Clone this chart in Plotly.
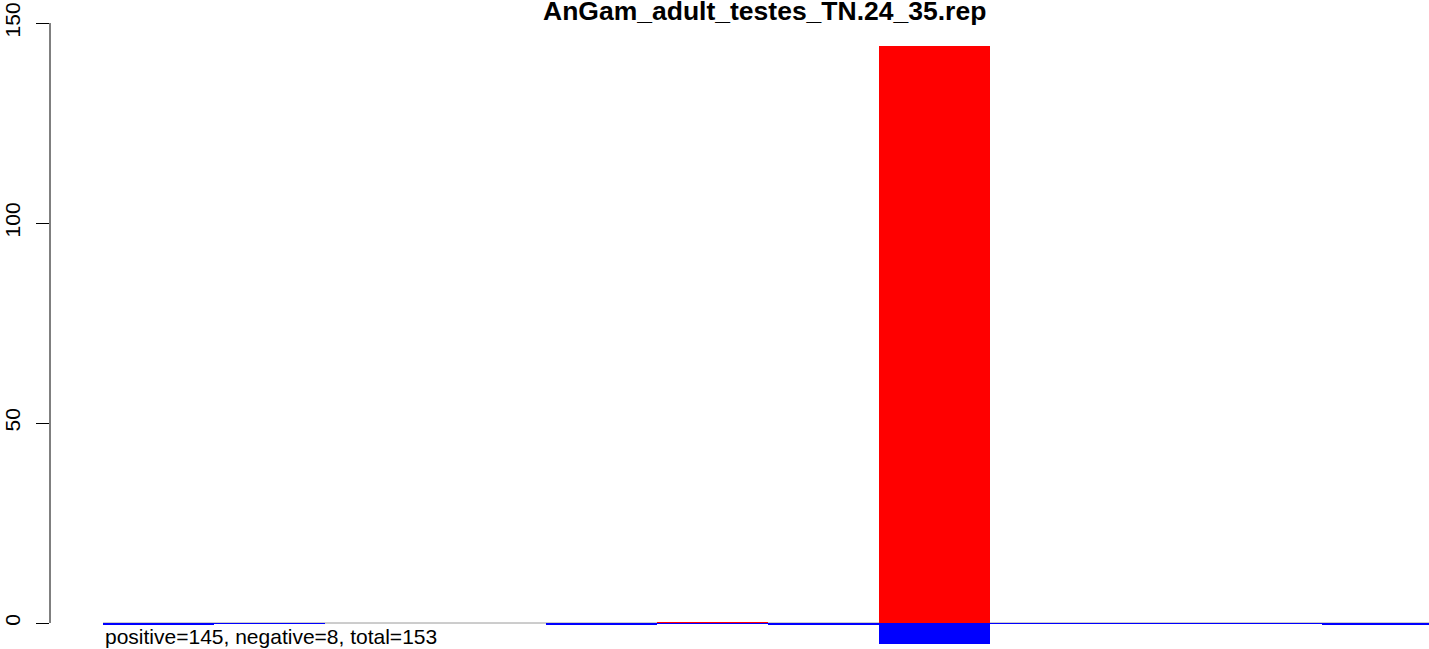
import plotly.graph_objects as go

# Data
categories = list(range(12))
positive = [0, 0, 0, 0, 0, 0.25, 0, 144.25, 0, 0, 0, 0]
negative = [-0.5, -0.2, 0, 0, -0.3, -0.2, -0.3, -5.2, -0.2, -0.25, -0.2, -0.6]
y_ticks = [0, 50, 100, 150]
title_text = "AnGam_adult_testes_TN.24_35.rep"
summary_text = "positive=145, negative=8, total=153"

FONT = "Liberation Sans, Arial, Helvetica, sans-serif"

W, H = 1429, 649
L, T = 50, 23
PLOT_H = 624
B = H - T - PLOT_H
PLOT_W = W - L

fig = go.Figure()
fig.add_trace(go.Bar(x=categories, y=positive, width=1, marker=dict(color="#FF0000", line=dict(width=0)),
                     showlegend=False, hoverinfo="skip"))
fig.add_trace(go.Bar(x=categories, y=negative, width=1, marker=dict(color="#0000FF", line=dict(width=0)),
                     showlegend=False, hoverinfo="skip"))

# gray zero line under bars
fig.add_shape(type="line", xref="x", yref="y", x0=-0.5, x1=11.5, y0=0, y1=0,
              line=dict(color="#9a9a9a", width=1), layer="below")
# y axis line from 0 to 150 (R style)
fig.add_shape(type="line", xref="paper", yref="y", x0=0, x1=0, y0=0, y1=150,
              line=dict(color="black", width=1))

fig.add_annotation(x=-0.5, y=-3.4, xref="x", yref="y", text=summary_text, showarrow=False,
                   xanchor="left", yanchor="middle", font=dict(family=FONT, size=21, color="black"))
fig.add_annotation(x=(765 - L) / PLOT_W, y=1 + 11.5 / PLOT_H, xref="paper", yref="paper",
                   text="<b>" + title_text + "</b>", showarrow=False,
                   xanchor="center", yanchor="middle", font=dict(family=FONT, size=26.5, color="black"))

fig.update_layout(
    width=W, height=H,
    margin=dict(l=L, r=0, t=T, b=B, pad=0),
    paper_bgcolor="white", plot_bgcolor="white",
    barmode="overlay", bargap=0,
    xaxis=dict(range=[-0.978, 11.461], visible=False, showgrid=False, zeroline=False),
    yaxis=dict(range=[-6, 150.01], tickvals=y_ticks, ticktext=[str(v) for v in y_ticks],
               ticks="outside", ticklen=13, tickwidth=1, tickcolor="black",
               showgrid=False, zeroline=False, showline=False, tickangle=-90,
               ticklabelstandoff=8, ticklabeloverflow="allow",
               tickfont=dict(family=FONT, size=21, color="black")),
    font=dict(family=FONT),
)

fig.write_html("out.html", config={"displayModeBar": False},
               post_script="document.body.style.margin='0';document.body.style.overflow='hidden';")
